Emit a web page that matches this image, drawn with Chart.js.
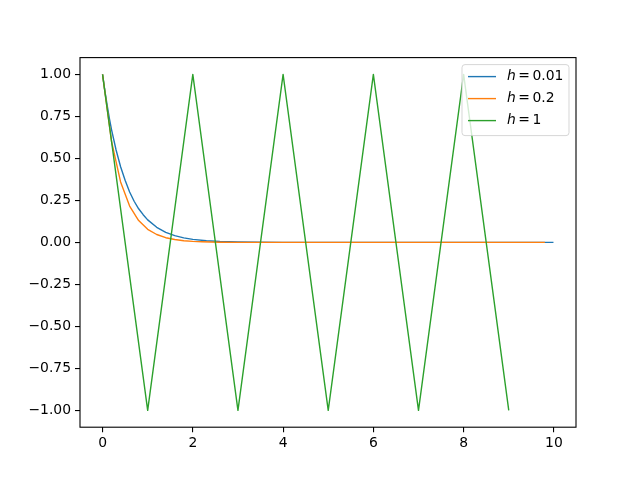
<!DOCTYPE html>
<html>
<head>
<meta charset="utf-8">
<script src="https://cdn.jsdelivr.net/npm/chart.js@4"></script>
<style>
  body { margin: 0; background: #fff; }
  canvas { display: block; }
</style>
</head>
<body>
<canvas id="chart" width="640" height="480"></canvas>
<script>
// values
var xFine = [0, 0.05, 0.1, 0.15, 0.2, 0.3, 0.4, 0.5, 0.6, 0.7, 0.8, 0.9, 1.0, 1.2, 1.4, 1.6, 1.8, 2.0, 2.3, 2.6, 3.0, 3.5, 4.0, 5.0, 9.99];
var yFine = [1.0, 0.905, 0.82, 0.74, 0.67, 0.55, 0.45, 0.37, 0.30, 0.245, 0.20, 0.165, 0.134, 0.09, 0.06, 0.04, 0.027, 0.018, 0.01, 0.005, 0.0025, 0.001, 0.0003, 0.0, 0.0];

var xMid = [0, 0.2, 0.4, 0.6, 0.8, 1.0, 1.2, 1.4, 1.6, 1.8, 2.0, 2.2, 2.4, 2.6, 3.0, 9.8];
var yMid = [1.0, 0.6, 0.36, 0.216, 0.13, 0.078, 0.047, 0.028, 0.017, 0.01, 0.006, 0.004, 0.002, 0.001, 0.0, 0.0];

var xCoarse = [0, 1, 2, 3, 4, 5, 6, 7, 8, 9];
var yCoarse = [1, -1, 1, -1, 1, -1, 1, -1, 1, -1];

var labels = ["h = 0.01", "h = 0.2", "h = 1"];
var colors = ["#1f77b4", "#ff7f0e", "#2ca02c"];

var xTicks = [0, 2, 4, 6, 8, 10];
var yTicks = [-1, -0.75, -0.5, -0.25, 0, 0.25, 0.5, 0.75, 1];

const LW = 1.4;

function points(xs, ys) {
    var result = [];
    for (var i = 0; i < xs.length; i++) {
        result.push({ x: xs[i], y: ys[i] });
    }
    return result;
}

function series(xs, ys, i) {
    return {
        label: labels[i],
        data: points(xs, ys),
        borderColor: colors[i],
        backgroundColor: colors[i],
        borderWidth: LW,
        borderJoinStyle: 'round',
        pointRadius: 0,
        fill: false,
        tension: 0,
        order: labels.length - i   // later series on top, like matplotlib
    };
}

const FONT = "DejaVu Sans";
const FSIZE = 13.9;

// axes box + legend drawn like matplotlib
const boxAndLegend = {
    id: 'boxAndLegend',
    afterDatasetsDraw(chart) {
        const ctx = chart.ctx;
        const a = chart.chartArea;
        ctx.save();

        // legend frame
        const w = 107, h = 71;
        const x0 = a.right - 7 - w, y0 = a.top + 7;
        const r = 3;
        ctx.beginPath();
        ctx.moveTo(x0 + r, y0);
        ctx.arcTo(x0 + w, y0, x0 + w, y0 + h, r);
        ctx.arcTo(x0 + w, y0 + h, x0, y0 + h, r);
        ctx.arcTo(x0, y0 + h, x0, y0, r);
        ctx.arcTo(x0, y0, x0 + w, y0, r);
        ctx.closePath();
        ctx.fillStyle = "rgba(255,255,255,0.8)";
        ctx.fill();
        ctx.strokeStyle = "rgba(204,204,204,0.8)";
        ctx.lineWidth = 1;
        ctx.stroke();

        chart.data.datasets.forEach((ds, i) => {
            const yy = y0 + 12 + i * 22;
            ctx.beginPath();
            ctx.moveTo(x0 + 6, yy);
            ctx.lineTo(x0 + 34, yy);
            ctx.strokeStyle = ds.borderColor;
            ctx.lineWidth = LW;
            ctx.stroke();

            const parts = ds.label.split(" = ");
            let tx = x0 + 45;
            ctx.fillStyle = "#000";
            ctx.textBaseline = "middle";
            ctx.font = "oblique " + FSIZE + "px '" + FONT + "'";
            ctx.fillText(parts[0], tx, yy);
            tx += ctx.measureText(parts[0]).width + 2.5;
            ctx.font = FSIZE + "px '" + FONT + "'";
            ctx.fillText("=", tx, yy);
            tx += ctx.measureText("=").width + 2.5;
            ctx.fillText(parts[1], tx, yy);
        });

        // axes spines
        ctx.strokeStyle = "#000";
        ctx.lineWidth = 1.1;
        ctx.strokeRect(a.left, a.top, a.right - a.left, a.bottom - a.top);
        ctx.restore();
    }
};

Chart.defaults.font.family = FONT;
Chart.defaults.font.size = FSIZE;
Chart.defaults.color = "#000";

const ctx = document.getElementById("chart").getContext("2d");

var config = {
    type: 'line',
    data: {
        datasets: [
            series(xFine, yFine, 0),
            series(xMid, yMid, 1),
            series(xCoarse, yCoarse, 2)
        ]
    },
    options: {
        responsive: false,
        animation: false,
        devicePixelRatio: 1,
        layout: { padding: { top: 57.6, right: 64, left: 0, bottom: 0 } },
        plugins: {
            legend: { display: false },
            tooltip: { enabled: false }
        },
        scales: {
            x: {
                type: 'linear',
                min: -0.4995,
                max: 10.4895,
                afterFit: (scale) => { scale.height = 52.8; },
                afterBuildTicks: (scale) => { scale.ticks = xTicks.map(v => ({ value: v })); },
                grid: { display: true, drawOnChartArea: false, drawTicks: true, tickLength: 5, color: "#000", lineWidth: 1.1 },
                border: { display: false },
                ticks: { padding: 3, maxRotation: 0, autoSkip: false, callback: (v) => String(v) }
            },
            y: {
                type: 'linear',
                min: -1.1,
                max: 1.1,
                afterFit: (scale) => { scale.width = 80; },
                afterBuildTicks: (scale) => { scale.ticks = yTicks.map(v => ({ value: v })); },
                grid: { display: true, drawOnChartArea: false, drawTicks: true, tickLength: 5, color: "#000", lineWidth: 1.1 },
                border: { display: false },
                ticks: { padding: 4, autoSkip: false, callback: (v) => (v < 0 ? "\u2212" : "") + Math.abs(v).toFixed(2) }
            }
        }
    },
    plugins: [boxAndLegend]
};

new Chart(ctx, config);
</script>
</body>
</html>
